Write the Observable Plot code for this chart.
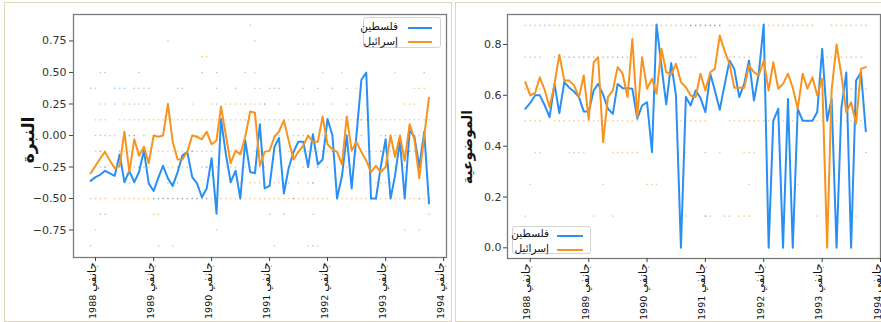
<!DOCTYPE html>
<html><head><meta charset="utf-8">
<script src="https://cdn.jsdelivr.net/npm/d3@7"></script>
<script src="https://cdn.jsdelivr.net/npm/@observablehq/plot@0.6"></script>
<style>
body{margin:0;background:#fff;}
#wrap{position:relative;width:881px;height:322px;overflow:hidden;font-family:"DejaVu Sans",sans-serif;background:#fff;}
.panel{position:absolute;border:1.5px solid #ddd7ba;box-sizing:border-box;}
.chart{position:absolute;top:0;}
.legend{position:absolute;border:1px solid #d3d3d3;border-radius:3px;background:rgba(255,255,255,0.9);box-sizing:border-box;}
.lt{position:absolute;font-size:10.5px;color:#111;white-space:nowrap;transform:translate(-100%,-50%);line-height:1;}
.sw{position:absolute;height:2px;transform:translateY(-50%);}
.ylab{position:absolute;font-weight:bold;color:#111;transform:translate(-50%,-50%) rotate(-90deg);white-space:nowrap;line-height:1;}
</style></head>
<body>
<div id="wrap">
  <div class="panel" style="left:4px;top:2px;width:448px;height:320px;"></div>
  <div class="panel" style="left:455px;top:2px;width:430px;height:320px;"></div>
  <div id="c1" class="chart" style="left:0px;"></div>
  <div id="c2" class="chart" style="left:440px;"></div>
  <div class="ylab" style="left:28px;top:140px;font-size:17px;">النبرة</div>
  <div class="ylab" style="left:467px;top:147px;font-size:14px;">الموضوعية</div>
  <div class="legend" style="left:363px;top:17px;width:78px;height:31px;">
    <div class="lt" style="left:34px;top:8px;">فلسطين</div>
    <div class="sw" style="left:44px;top:9.5px;width:24px;background:#2a8ff2;"></div>
    <div class="lt" style="left:34px;top:23px;">إسرائيل</div>
    <div class="sw" style="left:44px;top:24px;width:24px;background:#f7931e;"></div>
  </div>
  <div class="legend" style="left:512px;top:226px;width:79px;height:28px;">
    <div class="lt" style="left:36px;top:6px;">فلسطين</div>
    <div class="sw" style="left:44px;top:8.5px;width:26px;background:#2a8ff2;"></div>
    <div class="lt" style="left:36px;top:21px;">إسرائيل</div>
    <div class="sw" style="left:44px;top:22.5px;width:26px;background:#f7931e;"></div>
  </div>
</div>
<script>
const BLUE = "#2a8ff2", ORANGE = "#f7931e";
const seriesNames = ["فلسطين", "إسرائيل"];
const monthLabel = "جانفي";
const yearTickLabels = [1988, 1989, 1990, 1991, 1992, 1993, 1994];
// monthly values, Dec 1987 .. Oct 1993
const firstMonth = [1987, 11];
const toneBlue = [-0.36,-0.33,-0.31,-0.28,-0.30,-0.32,-0.15,-0.37,-0.28,-0.37,-0.29,-0.12,-0.38,-0.44,-0.33,-0.24,-0.34,-0.40,-0.29,-0.16,-0.13,-0.33,-0.38,-0.49,-0.42,-0.18,-0.62,0.13,-0.15,-0.37,-0.28,-0.50,-0.04,-0.29,-0.30,0.09,-0.42,-0.40,-0.09,-0.02,-0.46,-0.26,-0.13,-0.05,-0.05,-0.25,0.01,-0.23,-0.19,0.13,0.00,-0.50,-0.32,0.00,-0.42,0.00,0.44,0.50,-0.50,-0.50,-0.25,-0.03,-0.50,-0.32,-0.04,-0.50,0.04,-0.01,-0.25,0.03,-0.54];
const toneOrange = [-0.30,-0.24,-0.18,-0.13,-0.20,-0.26,-0.24,0.03,-0.29,-0.03,-0.16,-0.09,-0.22,0.00,-0.01,0.00,0.25,-0.05,-0.19,-0.19,-0.13,0.00,-0.01,-0.03,0.03,-0.07,-0.04,0.23,0.00,-0.22,-0.12,-0.15,-0.01,0.19,0.18,-0.24,-0.13,-0.12,-0.01,0.03,0.12,-0.04,-0.19,-0.13,-0.08,0.00,-0.05,-0.05,0.15,-0.07,-0.11,-0.13,-0.23,0.15,-0.12,-0.05,-0.13,-0.20,-0.29,-0.24,-0.29,-0.25,0.00,-0.17,0.00,-0.20,0.09,-0.03,-0.34,0.00,0.30];
const objBlue = [0.547,0.57,0.60,0.60,0.56,0.514,0.645,0.53,0.652,0.63,0.615,0.593,0.536,0.536,0.619,0.645,0.603,0.547,0.527,0.645,0.628,0.628,0.626,0.508,0.56,0.573,0.376,0.879,0.717,0.564,0.727,0.60,0.0,0.593,0.56,0.619,0.59,0.534,0.685,0.62,0.543,0.64,0.737,0.704,0.593,0.645,0.737,0.58,0.685,0.879,0.0,0.50,0.547,0.0,0.586,0.0,0.547,0.50,0.50,0.50,0.534,0.783,0.50,0.586,0.0,0.55,0.69,0.0,0.658,0.69,0.459];
const objOrange = [0.652,0.60,0.61,0.671,0.62,0.553,0.645,0.76,0.658,0.658,0.639,0.593,0.678,0.504,0.73,0.75,0.416,0.593,0.619,0.711,0.685,0.593,0.822,0.514,0.75,0.626,0.665,0.606,0.783,0.691,0.682,0.724,0.652,0.632,0.599,0.593,0.685,0.619,0.691,0.704,0.835,0.776,0.724,0.63,0.63,0.63,0.717,0.691,0.678,0.737,0.619,0.73,0.626,0.645,0.685,0.63,0.547,0.685,0.626,0.671,0.599,0.665,0.0,0.62,0.80,0.68,0.534,0.573,0.488,0.704,0.711];
// individual article scores (month index from Jan 1988 = 0) per score level
const toneDotsOrange = [
 [0.875,"32"],[0.75,"15 33"],[0.625,"22 23"],[0.5,"33 47 51 62"],
 [0.375,"33 34 43 52 54 66 67 68"],
 [0.25,"1 2 6 7 9 10 11 15 20 24 27 28 29 30 31 32 33 34 35 38 42 43 44 45 49 52 56 64 65 66"],
 [0.125,"0 1 2 5 6 7 8 9 10 11 12 13 14 15 16 17 18 19 20 21 22 23 24 25 26 27 28 29 30 31 32 33 34 35 36 37 38 39 40 41 42 43 44 45 46 47 48 49 50 51 52 53 54 55 56 57 58 59 60 61 62 63 64 65 66 67 68 69"],
 [0,"3 4 7 8 20 21 22 27 31 41 44 45 47 59 60 61 62 63 66 67"],
 [-0.125,"0 1 6 7 9 10 11 13 14 15 16 17 18 19 20 21 22 23 24 27 28 29 30 31 33 34 35 36 37 38 40 41 42 43 44 45 46 47 48 49 51 52 53 54 55 56 57 58 59 60 61 62 63 64 65 66"],
 [-0.25,"1 2 4 5 7 8 9 11 15 16 18 19 23 25 27 28 31 34 35 41 43 46 48 52 57 59 62 64 67"],
 [-0.375,"30 32 33 34 35 37 38 42 44 45 58 59 60"],
 [-0.5,"-1 0 1 2 4 5 6 7 8 9 10 11 12 13 14 15 16 17 18 19 20 21 22 23 24 26 27 28 29 30 31 32 33 34 35 36 37 38 39 40 41 42 43 44 45 46 47 48 50 51 52 53 54 55 56 57 58 59 60 61 62 63 64 65 66 67 68"],
 [-0.625,"12 13 45"],[-0.75,"0 25 64 67"],[-0.875,"16 37 44 46"]
];
const toneDotsBlue = [
 [0.5,"1 2 9 22 25 31 68"],
 [0.375,"-1 0 4 5 6 8 9 10 11 17 18 25 29 36 37 38 46 49"],
 [0.25,"4 8 25 35"],[0.125,"26 48 55"],
 [0,"0 1 2 7 8 10 12 14 20 25 31 37 38 42 43 45 48 49 52 54 55 60 65 66 68"],
 [-0.125,"1 2 5 10 19 20 27 37 41 47 49 59 63 65"],
 [-0.25,"2 9 10 14 17 22 23 29 32 33 40 44 46 67"],
 [-0.375,"6 7 8 15 16 17 21 28 39 40 45 53 61"],
 [-0.5,"12 13 14 15 16 17 18 19 20 21 22 23 30 41 50 57 58 61 64 67 69"],
 [-0.625,"1 2 36 39 69"],[-0.875,"-1 13 45"]
];
const objDotsOrange = [
 [0.875,"-1 0 1 2 5 6 7 8 9 10 11 12 13 14 15 16 17 18 19 20 21 22 23 24 25 26 27 28 29 30 31 32 33 34 35 36 37 38 39 41 42 43 44 45 46 47 48 49 50 51 52 53 54 55 56 57 58 62 63 64 65 66 67 68 69"],
 [0.75,"-1 0 1 2 31 32 33 34 40 41 42 43 44 45 59 60 61 62 63 64 65 66 67 68"],
 [0.625,"-1 0 1 2 66 67 68 69"],
 [0.5,"-1 0 1 2 5 6 7 8 9 10 11 12 13 14 15 16 17 18 19 20 21 22 31 32 33 34 35 36 41 42 43 44 45 46 47 48 49 50 51 52 53 54 56 57 58 59 60 62 63 64 65 66 67 68"],
 [0.375,"1 2 8 9 10 11 17 18 19 20 21 22 32 39 44 45 46"],
 [0.25,"0 15 24 25 26 45 55"],
 [0.125,"-1 13 17 32 36 37 43 44 45 59 67"]
];
const objDotsBlue = [
 [0.875,"3 4 33 34 35 36 37 38 39"],
 [0.75,"5 6 7 8 9 10 11 12 13 14 15 16 17 18 19 20"],
 [0.375,"36 69"],[0.125,"36 40 41"]
];

const monthDate = m => new Date(Date.UTC(1988, m, 1));
const seriesRows = (vals) => vals.map((v, i) => ({date: new Date(Date.UTC(firstMonth[0], firstMonth[1] + i, 1)), v}));
const dotRows = (list) => list.flatMap(([level, s]) => s.split(" ").filter(t => t !== "").map(t => ({date: monthDate(+t), level})));
const yearTicks = yearTickLabels.map(y => new Date(Date.UTC(y, 0, 1)));
const decYear = y => { const yr = Math.floor(y); const f = y - yr; const a = Date.UTC(yr,0,1), b = Date.UTC(yr+1,0,1); return new Date(a + f*(b-a)); };

function panel(o) {
  return Plot.plot({
    width: o.width, height: 322,
    marginLeft: o.mLeft, marginRight: o.mRight, marginTop: 14, marginBottom: o.mBottom,
    style: {fontFamily: "DejaVu Sans, sans-serif", fontSize: "11px", color: "#444", background: "transparent", overflow: "visible"},
    x: {type: "utc", domain: o.xDomain},
    y: {domain: o.yDomain},
    marks: [
      Plot.dot(dotRows(o.dotsO), {x: "date", y: "level", r: 0.85, fill: ORANGE, fillOpacity: 0.5, stroke: null}),
      Plot.dot(dotRows(o.dotsB), {x: "date", y: "level", r: 0.85, fill: BLUE, fillOpacity: 0.45, stroke: null}),
      Plot.line(seriesRows(o.blue), {x: "date", y: "v", stroke: BLUE, strokeWidth: 2, strokeLinejoin: "round"}),
      Plot.line(seriesRows(o.orange), {x: "date", y: "v", stroke: ORANGE, strokeWidth: 2, strokeLinejoin: "round"}),
      Plot.frame({stroke: "#7a7a7a", strokeWidth: 1.3}),
      Plot.axisY({ticks: o.yTicks, tickFormat: o.yFmt, tickSize: 4, tickPadding: o.tickPad, label: null, fontSize: 11, fill: "#333"}),
      Plot.axisX({ticks: yearTicks, tickSize: 4, tickFormat: () => "", label: null}),
      Plot.text(yearTicks, {x: d => d, frameAnchor: "bottom", dy: 5, rotate: -90, textAnchor: "end",
        text: d => `${d.getUTCFullYear()} ${monthLabel}`, fontSize: 9.5, fill: "#111"})
    ]
  });
}
// enlarge the Arabic month word inside each x tick label
function styleMonthLabels(svg) {
  svg.querySelectorAll("text").forEach(t => {
    const s = t.textContent;
    if (!s.includes(monthLabel)) return;
    const year = s.replace(monthLabel, "").trim();
    t.textContent = "";
    const ns = "http://www.w3.org/2000/svg";
    const a = document.createElementNS(ns, "tspan"); a.textContent = year + " ";
    const b = document.createElementNS(ns, "tspan"); b.textContent = monthLabel;
    b.setAttribute("font-size", "11.5");
    t.append(a, b);
  });
  return svg;
}
const fmt2 = d => (d < 0 ? "\u2212" : "") + Math.abs(d).toFixed(2);
const fmt1 = d => (d < 0 ? "\u2212" : "") + Math.abs(d).toFixed(1);

document.getElementById("c1").append(styleMonthLabels(panel({
  width: 450, mLeft: 73, mRight: 4, mBottom: 65, tickPad: 3,
  xDomain: [decYear(1987.62), decYear(1994.05)], yDomain: [-0.968, 0.96],
  yTicks: [-0.75, -0.5, -0.25, 0, 0.25, 0.5, 0.75], yFmt: fmt2,
  blue: toneBlue, orange: toneOrange, dotsO: toneDotsOrange, dotsB: toneDotsBlue
})));
document.getElementById("c2").append(styleMonthLabels(panel({
  width: 441, mLeft: 67, mRight: 1, mBottom: 64, tickPad: 2,
  xDomain: [decYear(1987.61), decYear(1994.0)], yDomain: [-0.042, 0.918],
  yTicks: [0, 0.2, 0.4, 0.6, 0.8], yFmt: fmt1,
  blue: objBlue, orange: objOrange, dotsO: objDotsOrange, dotsB: objDotsBlue
})));
</script>
</body></html>
